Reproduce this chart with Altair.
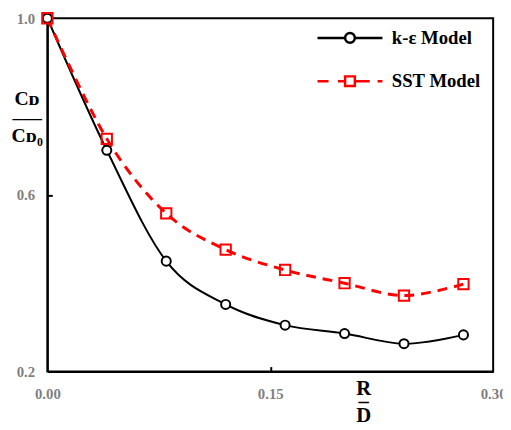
import altair as alt
import pandas as pd

r_over_d = [0.00, 0.04, 0.08, 0.12, 0.16, 0.20, 0.24, 0.28]
ke_model = [1.000, 0.701, 0.450, 0.352, 0.305, 0.286, 0.263, 0.283]
sst_model = [1.000, 0.727, 0.558, 0.476, 0.430, 0.400, 0.372, 0.398]
series_names = ["k-ε Model", "SST Model"]
x_ticks = [0.00, 0.15, 0.30]
y_ticks = [0.2, 0.6, 1.0]

rows = []
for name, vals in zip(series_names, [ke_model, sst_model]):
    for xv, v in zip(r_over_d, vals):
        rows.append({"x": xv, "cd": v, "series": name})
df = pd.DataFrame(rows)

W, H = 453, 359
SERIF = "Liberation Serif"
xs = alt.Scale(domain=[0, 0.3], nice=False)
ys = alt.Scale(domain=[0.2, 1.0], nice=False)

main_x_axis = alt.Axis(
    values=x_ticks, format=".2f", labelFlush=False, ticks=False, tickSize=0, grid=False,
    domainColor="black", domainWidth=2, labelColor="#7f7f7f", labelFont=SERIF,
    labelFontWeight="bold", labelFontSize=15, labelPadding=15, labelBaseline="top",
    title=["R", "–", "D"], titleFont=SERIF, titleFontSize=21, titleFontWeight="bold",
    titleLineHeight=14, titleX=321, titleY=17, titleBaseline="middle", titleAlign="center",
    titleColor="black", titleAngle=0,
)
main_y_axis = alt.Axis(
    values=y_ticks, format=".1f", ticks=False, tickSize=0, grid=False,
    domainColor="black", domainWidth=2, labelColor="#7f7f7f", labelFont=SERIF,
    labelFontWeight="bold", labelFontSize=15, labelPadding=13,
    title=["Cᴅ", "–—", "Cᴅ₀"], titleFont=SERIF, titleFontSize=20, titleFontWeight="bold",
    titleLineHeight=18.5, titleX=-21, titleY=82, titleBaseline="middle", titleAlign="center",
    titleColor="black", titleAngle=0,
)
tick_x_axis = alt.Axis(
    orient="top", offset=-H, values=[0.15], labels=False, domain=False, grid=False,
    ticks=True, tickSize=5, tickWidth=2, tickColor="black", title=None,
)
tick_y_axis = alt.Axis(
    orient="right", offset=-W, values=[0.6], labels=False, domain=False, grid=False,
    ticks=True, tickSize=5, tickWidth=2, tickColor="black", title=None,
)

ke = alt.Chart(df).transform_filter(alt.datum.series == series_names[0])
sst = alt.Chart(df).transform_filter(alt.datum.series == series_names[1])

ke_line = ke.mark_line(color="black", strokeWidth=2, interpolate="cardinal").encode(
    x=alt.X("x:Q", scale=xs, axis=main_x_axis),
    y=alt.Y("cd:Q", scale=ys, axis=main_y_axis),
)
sst_line = sst.mark_line(color="red", strokeWidth=3, strokeDash=[10, 7], interpolate="cardinal").encode(
    x=alt.X("x:Q", scale=xs, axis=tick_x_axis),
    y=alt.Y("cd:Q", scale=ys, axis=tick_y_axis),
)
ke_pts = ke.mark_point(shape="circle", size=85, filled=True, fill="white", stroke="black",
                       strokeWidth=2, opacity=1).encode(
    x=alt.X("x:Q", scale=xs, axis=None),
    y=alt.Y("cd:Q", scale=ys, axis=None),
)
sst_pts = sst.mark_point(shape="square", size=110, filled=False, color="red", stroke="red",
                         strokeWidth=2, opacity=1).encode(
    x=alt.X("x:Q", scale=xs, axis=None),
    y=alt.Y("cd:Q", scale=ys, axis=None),
)

path_ke = "M-1,0H-0.15M0.15,0H1M0.15,0A0.15,0.15,0,1,1,-0.15,0A0.15,0.15,0,1,1,0.15,0"
path_sst = ("M-1,0H-0.66M-0.37,0H-0.15M0.15,0H0.61M0.85,0H1"
            "M-0.15,-0.15H0.15V0.15H-0.15Z")

leg = alt.Legend(
    orient="none", legendX=273, legendY=9, title=None, padding=0, clipHeight=22,
    rowPadding=22, labelOffset=8, labelFont=SERIF, labelFontWeight="bold",
    labelFontSize=19, labelColor="black", symbolSize=4356, symbolStrokeWidth=2.5,
    labelLimit=0,
)
legend_layer = alt.Chart(df).transform_filter("false").mark_point(
    filled=False, strokeWidth=2.5, size=4356, opacity=1
).encode(
    x=alt.X("x:Q", scale=xs, axis=None),
    y=alt.Y("cd:Q", scale=ys, axis=None),
    color=alt.Color("series:N", scale=alt.Scale(domain=series_names, range=["black", "red"]), legend=leg),
    shape=alt.Shape("series:N", scale=alt.Scale(domain=series_names, range=[path_ke, path_sst]), legend=leg),
)

chart = (
    alt.layer(ke_line, sst_line, ke_pts, sst_pts, legend_layer)
    .resolve_axis(x="independent", y="independent")
    .properties(
        width=W, height=H,
        padding={"left": 40, "top": 7, "right": 10, "bottom": 56},
        autosize=alt.AutoSizeParams(type="none"),
        background="white",
    )
    .configure_view(stroke="black", strokeWidth=2)
)

chart.save("out.html", embed_options={"renderer": "svg", "actions": False})
